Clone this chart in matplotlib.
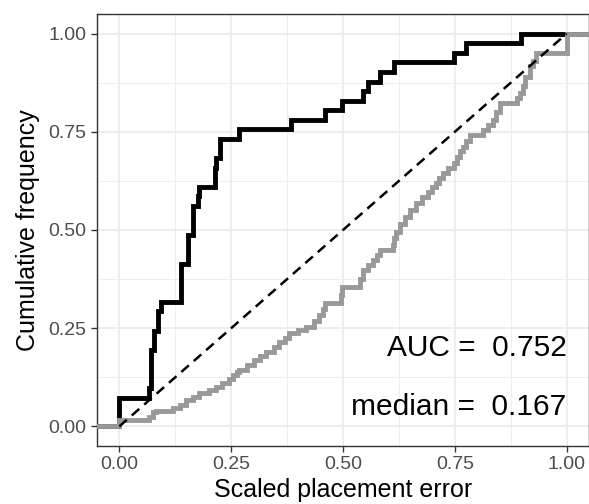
import matplotlib
matplotlib.use("Agg")
import matplotlib.pyplot as plt
import numpy as np

plt.rcParams['font.family'] = ['Liberation Sans', 'DejaVu Sans']

# Black ECDF: step positions and cumulative count (n = 41)
black_x = [0.000, 0.067, 0.071, 0.078, 0.086, 0.093, 0.138, 0.153, 0.164, 0.175, 0.178,
           0.213, 0.216, 0.224, 0.268, 0.384, 0.459, 0.498, 0.544, 0.556, 0.582,
           0.615, 0.749, 0.776, 0.899]
black_count = [3, 4, 8, 10, 12, 13, 17, 20, 23, 24, 25, 27, 28, 30, 31, 32, 33, 34, 35,
               36, 37, 38, 39, 40, 41]
black_n = 41

# Grey ECDF: step positions and cumulative frequency after each step
grey_x = [0.000, 0.067, 0.075, 0.082, 0.120, 0.135, 0.149, 0.165, 0.179, 0.200, 0.215,
          0.230, 0.245, 0.255, 0.264, 0.268, 0.285, 0.302, 0.315, 0.328, 0.345, 0.358,
          0.370, 0.380, 0.400, 0.418, 0.435, 0.447, 0.455, 0.459, 0.496, 0.498, 0.537,
          0.544, 0.556, 0.567, 0.575, 0.582, 0.611, 0.615, 0.619, 0.628, 0.638, 0.650,
          0.664, 0.677, 0.690, 0.700, 0.708, 0.715, 0.723, 0.735, 0.749, 0.755, 0.762,
          0.768, 0.775, 0.783, 0.813, 0.825, 0.835, 0.842, 0.850, 0.888, 0.895, 0.902,
          0.908, 0.917, 0.925, 0.932, 1.000]
grey_y = [0.015, 0.025, 0.036, 0.040, 0.046, 0.055, 0.066, 0.075, 0.084, 0.092, 0.100,
          0.110, 0.120, 0.130, 0.139, 0.143, 0.155, 0.168, 0.180, 0.190, 0.203, 0.215,
          0.226, 0.237, 0.245, 0.253, 0.268, 0.283, 0.298, 0.313, 0.335, 0.355, 0.375,
          0.398, 0.410, 0.423, 0.436, 0.449, 0.462, 0.480, 0.496, 0.515, 0.534, 0.550,
          0.568, 0.583, 0.598, 0.610, 0.619, 0.632, 0.645, 0.657, 0.670, 0.685, 0.700,
          0.712, 0.727, 0.742, 0.755, 0.768, 0.780, 0.800, 0.823, 0.836, 0.850, 0.866,
          0.890, 0.917, 0.930, 0.950, 1.000]

auc_text = "AUC =  0.752"
median_text = "median =  0.167"

x_ticks = [0.00, 0.25, 0.50, 0.75, 1.00]
y_ticks = [0.00, 0.25, 0.50, 0.75, 1.00]
tick_labels = ["0.00", "0.25", "0.50", "0.75", "1.00"]

fig = plt.figure(figsize=(5.89, 5.04), dpi=100)
ax = fig.add_axes([97/589, 58/504, 492/589, 432/504])

xmin, xmax = -0.05, 1.05
ax.set_xlim(xmin, xmax)
ax.set_ylim(-0.05, 1.05)

# grid
for v in [0.125, 0.375, 0.625, 0.875]:
    ax.axvline(v, color='#EBEBEB', lw=0.6, zorder=0)
    ax.axhline(v, color='#EBEBEB', lw=0.6, zorder=0)
for v in x_ticks:
    ax.axvline(v, color='#EBEBEB', lw=1.2, zorder=0)
for v in y_ticks:
    ax.axhline(v, color='#EBEBEB', lw=1.2, zorder=0)

bx = [xmin] + black_x + [xmax]
by = [0] + [c / black_n for c in black_count] + [1.0]
ax.step(bx, by, where='post', color='black', lw=3.5, zorder=2, solid_joinstyle='miter')

gx = [xmin] + grey_x + [xmax]
gy = [0] + grey_y + [1.0]
ax.step(gx, gy, where='post', color='#999999', lw=3.5, zorder=3, solid_joinstyle='miter')

ax.plot([0, 1], [0, 1], color='black', lw=1.8, ls=(0, (4, 2.6)), zorder=4)

ax.text(1.0, 0.2, auc_text, ha='right', va='center', fontsize=21.5, color='black')
ax.text(1.0, 0.05, median_text, ha='right', va='center', fontsize=21.5, color='black')

ax.set_xticks(x_ticks)
ax.set_xticklabels(tick_labels)
ax.set_yticks(y_ticks)
ax.set_yticklabels(tick_labels)
ax.tick_params(axis='both', colors='#333333', labelcolor='#4D4D4D', labelsize=14,
               length=4.5, width=1.0, pad=3)

for s in ax.spines.values():
    s.set_color('#333333')
    s.set_linewidth(1.0)

ax.set_xlabel("Scaled placement error", fontsize=18, color='black', labelpad=3)
ax.set_ylabel("Cumulative frequency", fontsize=18, color='black', labelpad=6)

fig.savefig("out.png", dpi=100)
